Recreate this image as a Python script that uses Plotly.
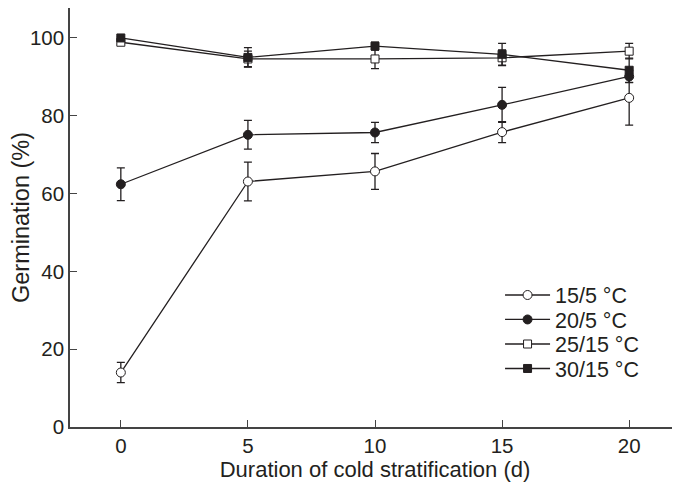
import plotly.graph_objects as go

days = [0, 5, 10, 15, 20]

series_names = ["15/5 °C", "20/5 °C", "25/15 °C", "30/15 °C"]
germ_15_5 = [14.0, 63.1, 65.7, 75.8, 84.6]
err_15_5 = [2.6, 5.0, 4.6, 2.7, 7.0]
germ_20_5 = [62.4, 75.1, 75.7, 82.8, 90.1]
err_20_5 = [4.2, 3.7, 2.6, 4.5, 1.6]
germ_25_15 = [98.9, 94.6, 94.6, 94.9, 96.6]
err_25_15 = [0.5, 2.0, 2.5, 2.0, 2.0]
germ_30_15 = [100.0, 95.0, 97.9, 95.8, 91.7]
err_30_15 = [0.3, 2.5, 1.0, 2.8, 3.1]

x_ticks = [0, 5, 10, 15, 20]
y_ticks = [0, 20, 40, 60, 80, 100]

INK = "#231f20"
AXIS = "#444444"
FONT = "Liberation Sans, Arial, Helvetica, sans-serif"

styles = [
    dict(symbol="circle", size=9, color="white"),
    dict(symbol="circle", size=9, color=INK),
    dict(symbol="square", size=8, color="white"),
    dict(symbol="square", size=8, color=INK),
]
legend_ids = ["legend", "legend2", "legend3", "legend4"]
legend_y = [0.315, 0.2566, 0.198, 0.1396]

fig = go.Figure()
for name, ys, es, st, lid in zip(
    series_names,
    [germ_15_5, germ_20_5, germ_25_15, germ_30_15],
    [err_15_5, err_20_5, err_25_15, err_30_15],
    styles,
    legend_ids,
):
    fig.add_trace(
        go.Scatter(
            x=days,
            y=ys,
            name=name,
            legend=lid,
            mode="lines+markers",
            line=dict(color=INK, width=1.3),
            marker=dict(
                symbol=st["symbol"],
                size=st["size"],
                color=st["color"],
                line=dict(color=INK, width=1),
            ),
            error_y=dict(
                type="data",
                array=es,
                visible=True,
                color=INK,
                thickness=1.3,
                width=4,
            ),
        )
    )

legend_common = dict(
    x=0.705,
    xanchor="left",
    yanchor="middle",
    bgcolor="rgba(0,0,0,0)",
    font=dict(size=21.5, color=INK),
    itemwidth=45,
    tracegroupgap=0,
)

layout_legends = {}
for lid, ly in zip(legend_ids, legend_y):
    layout_legends[lid] = dict(legend_common, y=ly)

fig.update_layout(
    width=672,
    height=477,
    margin=dict(l=62, r=0, t=0, b=58),
    paper_bgcolor="white",
    plot_bgcolor="white",
    font=dict(family=FONT, size=21, color=INK),
    showlegend=True,
    xaxis=dict(
        range=[-2, 22],
        tickvals=x_ticks,
        ticks="inside",
        ticklen=7,
        tickwidth=1.3,
        tickcolor=AXIS,
        showline=True,
        linecolor=AXIS,
        linewidth=1.5,
        showgrid=False,
        zeroline=False,
        tickfont=dict(size=20.5),
        title=dict(text="Duration of cold stratification (d)", font=dict(size=22), standoff=4),
    ),
    yaxis=dict(
        range=[0, 107.7],
        tickvals=y_ticks,
        ticks="inside",
        ticklen=7,
        tickwidth=1.3,
        tickcolor=AXIS,
        showline=True,
        linecolor=AXIS,
        linewidth=1.5,
        showgrid=False,
        zeroline=False,
        tickfont=dict(size=20.5),
        title=dict(text="Germination (%)", font=dict(size=23.5), standoff=0),
    ),
    **layout_legends,
)

fig.write_html("out.html")
